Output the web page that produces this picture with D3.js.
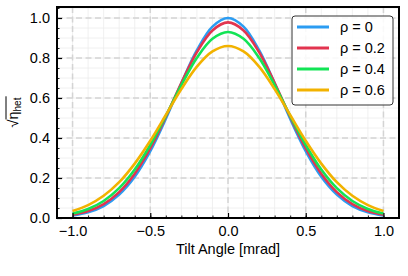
<!DOCTYPE html>
<html>
<head>
<meta charset="utf-8">
<script src="https://cdn.jsdelivr.net/npm/d3@7"></script>
<style>
  body { margin: 0; background: #fff; }
  svg { display: block; font-family: "Liberation Sans", Arial, sans-serif; }
</style>
</head>
<body>
<svg id="chart" width="408" height="276"></svg>
<script>
// tilt angle samples [mrad]
var tilt = [-1.0, -0.9, -0.8, -0.7, -0.6, -0.5, -0.4, -0.3, -0.2, -0.1, 0.0,
             0.1,  0.2,  0.3,  0.4,  0.5,  0.6,  0.7,  0.8,  0.9, 1.0];

// sqrt(eta_het), one array per rho
var rho0  = [0.0125, 0.0286, 0.060, 0.117, 0.206, 0.334, 0.496, 0.674, 0.839, 0.957, 1.000,
             0.957, 0.839, 0.674, 0.496, 0.334, 0.206, 0.117, 0.060, 0.0286, 0.0125];
var rho02 = [0.0158, 0.0346, 0.0698, 0.1296, 0.2215, 0.349, 0.506, 0.675, 0.829, 0.938, 0.978,
             0.938, 0.829, 0.675, 0.506, 0.349, 0.2215, 0.1296, 0.0698, 0.0346, 0.0158];
var rho04 = [0.0222, 0.0451, 0.0851, 0.149, 0.242, 0.365, 0.511, 0.664, 0.801, 0.896, 0.930,
             0.896, 0.801, 0.664, 0.511, 0.365, 0.242, 0.149, 0.0851, 0.0451, 0.0222];
var rho06 = [0.035, 0.0645, 0.111, 0.179, 0.272, 0.386, 0.515, 0.645, 0.757, 0.833, 0.860,
             0.833, 0.757, 0.645, 0.515, 0.386, 0.272, 0.179, 0.111, 0.0645, 0.035];

var seriesNames = ["ρ = 0", "ρ = 0.2", "ρ = 0.4", "ρ = 0.6"];
var seriesValues = [rho0, rho02, rho04, rho06];
var colors = ["#2b9cf2", "#e2344f", "#12e455", "#f2b200"];

var xTicks = [-1.0, -0.5, 0.0, 0.5, 1.0];
var yTicks = [0.0, 0.2, 0.4, 0.6, 0.8, 1.0];

var margin = {left: 57, right: 9, top: 7, bottom: 58};
var width = 408 - margin.left - margin.right;
var height = 276 - margin.top - margin.bottom;
var fs = 14.5;

var svg = d3.select("#chart");
var g = svg.append("g").attr("transform", "translate(" + margin.left + "," + margin.top + ")");

var xScale = d3.scaleLinear().domain([-1.1, 1.1]).range([0, width]);
var yScale = d3.scaleLinear().domain([0, 1.055]).range([height, 0]);

var fmt = function(d) { return d3.format(".1f")(d).replace("-", "\u2212"); };

// minor grid
var xMinor = d3.range(-11, 12).map(function(i) { return i / 10; });
var yMinor = d3.range(0, 22).map(function(i) { return i * 0.05; }).filter(function(v) { return v <= 1.055; });
g.selectAll("line.xminor").data(xMinor).enter().append("line")
  .attr("x1", function(d) { return xScale(d); }).attr("x2", function(d) { return xScale(d); })
  .attr("y1", 0).attr("y2", height)
  .attr("stroke", "#ececec").attr("stroke-width", 0.8);
g.selectAll("line.yminor").data(yMinor).enter().append("line")
  .attr("y1", function(d) { return yScale(d); }).attr("y2", function(d) { return yScale(d); })
  .attr("x1", 0).attr("x2", width)
  .attr("stroke", "#ececec").attr("stroke-width", 0.8);

// major grid, dashed
g.selectAll("line.xgrid").data(xTicks).enter().append("line")
  .attr("x1", function(d) { return xScale(d); }).attr("x2", function(d) { return xScale(d); })
  .attr("y1", 0).attr("y2", height)
  .attr("stroke", "#d4d4d4").attr("stroke-width", 1.5).attr("stroke-dasharray", "6,3.5");
g.selectAll("line.ygrid").data(yTicks).enter().append("line")
  .attr("y1", function(d) { return yScale(d); }).attr("y2", function(d) { return yScale(d); })
  .attr("x1", 0).attr("x2", width)
  .attr("stroke", "#d4d4d4").attr("stroke-width", 1.5).attr("stroke-dasharray", "6,3.5");

// curves
var line = d3.line()
  .x(function(d) { return xScale(d[0]); })
  .y(function(d) { return yScale(d[1]); })
  .curve(d3.curveCatmullRom.alpha(0.5));

seriesValues.forEach(function(vals, i) {
  g.append("path")
    .datum(d3.zip(tilt, vals))
    .attr("d", line)
    .attr("fill", "none")
    .attr("stroke", colors[i])
    .attr("stroke-width", 2.6);
});

// axes with inward ticks
var xAxis = g.append("g").attr("transform", "translate(0," + height + ")")
  .call(d3.axisBottom(xScale).tickValues(xTicks).tickFormat(fmt).tickSizeInner(-5).tickSizeOuter(0).tickPadding(8));
var yAxis = g.append("g")
  .call(d3.axisLeft(yScale).tickValues(yTicks).tickFormat(fmt).tickSizeInner(-5).tickSizeOuter(0).tickPadding(7));
[xAxis, yAxis].forEach(function(a) {
  a.select(".domain").remove();
  a.selectAll("line").attr("stroke", "#000").attr("stroke-width", 1.2);
  a.selectAll("text").attr("font-size", fs).attr("fill", "#000")
    .attr("font-family", "Liberation Sans, Arial, sans-serif");
});

// minor ticks
g.append("g").attr("transform", "translate(0," + height + ")")
  .call(d3.axisBottom(xScale).tickValues(xMinor.filter(function(v) { return Math.abs(v) <= 1.0001; })).tickFormat("").tickSizeInner(-2.5).tickSizeOuter(0))
  .call(function(a) { a.select(".domain").remove(); a.selectAll("line").attr("stroke", "#000").attr("stroke-width", 0.9); });
g.append("g")
  .call(d3.axisLeft(yScale).tickValues(yMinor).tickFormat("").tickSizeInner(-2.5).tickSizeOuter(0))
  .call(function(a) { a.select(".domain").remove(); a.selectAll("line").attr("stroke", "#000").attr("stroke-width", 0.9); });

// frame
g.append("rect").attr("width", width).attr("height", height)
  .attr("fill", "none").attr("stroke", "#000").attr("stroke-width", 2);

// axis labels
svg.append("text")
  .attr("x", margin.left + width / 2).attr("y", 254)
  .attr("text-anchor", "middle").attr("font-size", fs)
  .text("Tilt Angle [mrad]");

var yl = svg.append("g").attr("transform", "translate(18," + (margin.top + height / 2) + ") rotate(-90)");
var ylt = yl.append("text").attr("text-anchor", "middle").attr("font-size", fs);
ylt.append("tspan").text("√");
ylt.append("tspan").text("η");
ylt.append("tspan").attr("font-size", 10).attr("dy", 3).text("het");
var bb = ylt.node().getBBox();
yl.append("line")
  .attr("x1", bb.x + 8).attr("x2", bb.x + bb.width + 1)
  .attr("y1", bb.y + 1).attr("y2", bb.y + 1)
  .attr("stroke", "#000").attr("stroke-width", 1);

// legend
var lg = svg.append("g").attr("transform", "translate(292,16)");
lg.append("rect").attr("width", 101).attr("height", 89).attr("rx", 3)
  .attr("fill", "#fff").attr("fill-opacity", 0.85)
  .attr("stroke", "#333").attr("stroke-width", 1);
seriesNames.forEach(function(name, i) {
  var yy = 11 + i * 21;
  lg.append("line").attr("x1", 5).attr("x2", 37).attr("y1", yy).attr("y2", yy)
    .attr("stroke", colors[i]).attr("stroke-width", 3);
  lg.append("text").attr("x", 48).attr("y", yy + 5).attr("font-size", fs).text(name);
});
</script>
</body>
</html>
